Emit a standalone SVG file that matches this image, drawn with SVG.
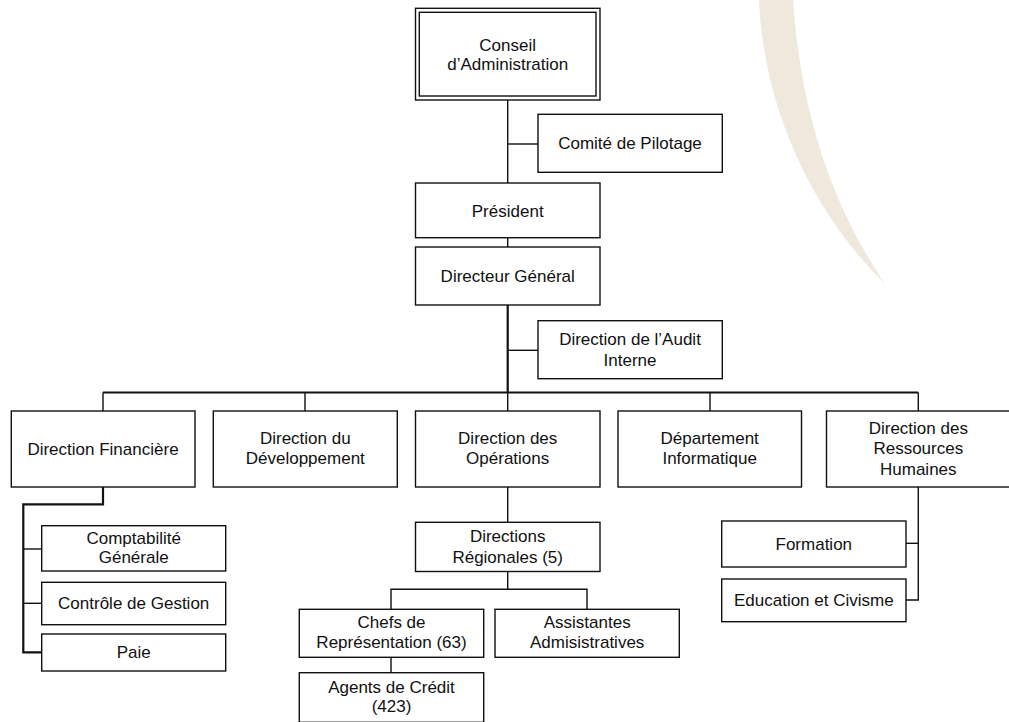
<svg xmlns="http://www.w3.org/2000/svg" width="1009" height="722" viewBox="0 0 1009 722">
<style>
.box{fill:#fff;stroke:#111;stroke-width:1.4}
.ln{fill:none;stroke:#111;stroke-width:1.4}
.thk{fill:none;stroke:#111;stroke-width:2.2}
text{font-family:"Liberation Sans",Arial,sans-serif;font-size:17px;fill:#111;text-anchor:middle}
</style>
<rect width="1009" height="722" fill="#fff"/>
<path id="swoosh" d="M759,0 C764,110 812,212 885,284 C846,225 803,140 793,0 Z" fill="#f0e8dc"/>
<g id="connectors">
<line class="ln" x1="507.7" y1="100" x2="507.7" y2="183"/>
<line class="ln" x1="507.7" y1="144" x2="538" y2="144"/>
<line class="ln" x1="507.7" y1="237.7" x2="507.7" y2="247"/>
<line class="thk" x1="507.7" y1="305" x2="507.7" y2="392.5"/>
<line class="ln" x1="507.7" y1="350.3" x2="538" y2="350.3"/>
<line class="thk" x1="103" y1="392.5" x2="918.3" y2="392.5" style="stroke-width:1.8"/>
<line class="ln" x1="103" y1="392.5" x2="103" y2="411"/>
<line class="ln" x1="305" y1="392.5" x2="305" y2="411"/>
<line class="ln" x1="507.7" y1="392.5" x2="507.7" y2="411"/>
<line class="ln" x1="710" y1="392.5" x2="710" y2="411"/>
<line class="ln" x1="918.3" y1="392.5" x2="918.3" y2="411"/>
<polyline class="thk" points="103,487 103,504.3 23.3,504.3 23.3,652.3 41.7,652.3"/>
<line class="ln" x1="23.3" y1="549" x2="41.7" y2="549"/>
<line class="ln" x1="23.3" y1="603.3" x2="41.7" y2="603.3"/>
<line class="ln" x1="507.7" y1="487" x2="507.7" y2="522"/>
<line class="ln" x1="507.7" y1="571.5" x2="507.7" y2="589.3"/>
<polyline class="ln" points="391,609.3 391,589.3 587,589.3 587,609.3"/>
<line class="ln" x1="391" y1="657.3" x2="391" y2="672.7"/>
<polyline class="ln" points="918.3,487 918.3,600 906,600"/>
<line class="ln" x1="906" y1="543.3" x2="918.3" y2="543.3"/>
</g>
<g id="conseil">
<rect class="box" x="415.5" y="8.3" width="184.5" height="91.7"/>
<rect class="box" x="419.3" y="12.3" width="176.7" height="83.7"/>
<text x="507.7" y="50.5">Conseil</text>
<text x="507.7" y="70">d’Administration</text>
</g>
<g id="comite">
<rect class="box" x="538" y="114.3" width="184.3" height="58"/>
<text x="630" y="149.3">Comité de Pilotage</text>
</g>
<g id="president">
<rect class="box" x="415.5" y="183" width="184.5" height="54.7"/>
<text x="507.7" y="216.5">Président</text>
</g>
<g id="dg">
<rect class="box" x="415.5" y="247" width="184.5" height="58"/>
<text x="507.7" y="282.3">Directeur Général</text>
</g>
<g id="audit">
<rect class="box" x="538" y="320.7" width="184.3" height="58"/>
<text x="630" y="345">Direction de l’Audit</text>
<text x="630" y="365.7">Interne</text>
</g>
<g id="dfin">
<rect class="box" x="11.3" y="411" width="183.7" height="76"/>
<text x="103" y="455">Direction Financière</text>
</g>
<g id="ddev">
<rect class="box" x="213.3" y="411" width="184" height="76"/>
<text x="305.3" y="443.5">Direction du</text>
<text x="305.3" y="463.5">Développement</text>
</g>
<g id="dops">
<rect class="box" x="415.5" y="411" width="184.5" height="76"/>
<text x="507.7" y="443.5">Direction des</text>
<text x="507.7" y="463.5">Opérations</text>
</g>
<g id="dinfo">
<rect class="box" x="618" y="411" width="183.5" height="76"/>
<text x="709.7" y="443.5">Département</text>
<text x="709.7" y="463.5">Informatique</text>
</g>
<g id="drh">
<rect class="box" x="826.5" y="411" width="184" height="76"/>
<text x="918.3" y="433.5">Direction des</text>
<text x="918.3" y="454.3">Ressources</text>
<text x="918.3" y="475">Humaines</text>
</g>
<g id="compta">
<rect class="box" x="41.7" y="525.7" width="184" height="45.3"/>
<text x="133.7" y="544">Comptabilité</text>
<text x="133.7" y="563.3">Générale</text>
</g>
<g id="controle">
<rect class="box" x="41.7" y="582.3" width="184" height="42.4"/>
<text x="133.7" y="608.8">Contrôle de Gestion</text>
</g>
<g id="paie">
<rect class="box" x="41.7" y="634" width="184" height="37"/>
<text x="133.7" y="657.5">Paie</text>
</g>
<g id="dreg">
<rect class="box" x="415.5" y="522.3" width="184.5" height="49.2"/>
<text x="507.7" y="542">Directions</text>
<text x="507.7" y="563.3">Régionales (5)</text>
</g>
<g id="formation">
<rect class="box" x="721.7" y="521" width="184.3" height="46"/>
<text x="813.8" y="549.5">Formation</text>
</g>
<g id="education">
<rect class="box" x="721.7" y="579" width="184.3" height="42.7"/>
<text x="813.8" y="605.5">Education et Civisme</text>
</g>
<g id="chefs">
<rect class="box" x="299.3" y="609.3" width="184.4" height="48"/>
<text x="391.5" y="628.3">Chefs de</text>
<text x="391.5" y="648.3">Représentation (63)</text>
</g>
<g id="assist">
<rect class="box" x="495" y="609.3" width="184.3" height="48"/>
<text x="587.2" y="628.3">Assistantes</text>
<text x="587.2" y="648.3">Admisistratives</text>
</g>
<g id="agents">
<rect class="box" x="299.3" y="672.7" width="184.4" height="49.6"/>
<text x="391.5" y="692.7">Agents de Crédit</text>
<text x="391.5" y="712.3">(423)</text>
</g>
</svg>
